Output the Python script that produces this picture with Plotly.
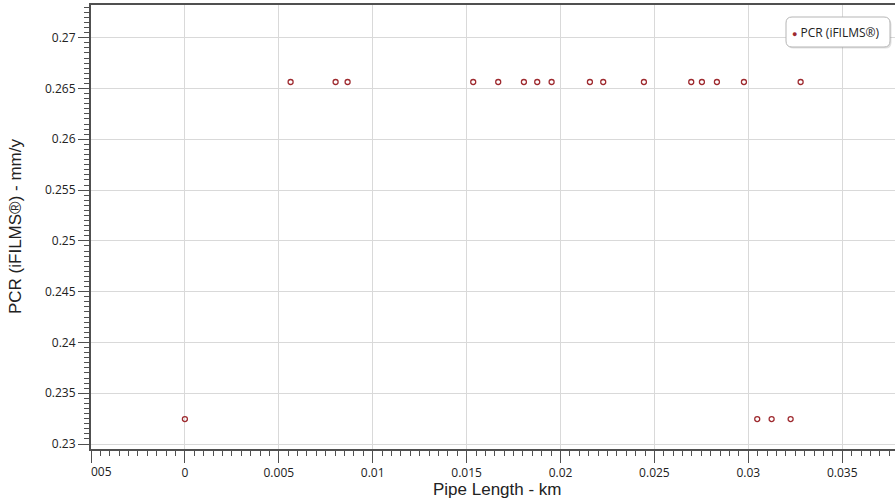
import plotly.graph_objects as go

# ---- data ----
pipe_length_km = [0.0, 0.005628, 0.008024, 0.008663, 0.015351, 0.016683, 0.018051,
                  0.018759, 0.019526, 0.021565, 0.022274, 0.024441, 0.026960,
                  0.027529, 0.028328, 0.029766, 0.030474, 0.031241, 0.032252,
                  0.032785]
pcr_mm_y = [0.23246, 0.26564, 0.26564, 0.26564, 0.26564, 0.26564, 0.26564,
            0.26564, 0.26564, 0.26564, 0.26564, 0.26564, 0.26564,
            0.26564, 0.26564, 0.26564, 0.23246, 0.23246, 0.23246,
            0.26564]

series_name = "PCR (iFILMS®)"
x_tick_vals = [-0.005, 0, 0.005, 0.01, 0.015, 0.02, 0.025, 0.03, 0.035]
x_tick_text = ["", "0", "0.005", "0.01", "0.015", "0.02", "0.025", "0.03", "0.035"]
y_tick_vals = [0.23, 0.235, 0.24, 0.245, 0.25, 0.255, 0.26, 0.265, 0.27]
y_tick_text = ["0.23", "0.235", "0.24", "0.245", "0.25", "0.255", "0.26", "0.265", "0.27"]
x_title = "Pipe Length - km"
y_title = "PCR (iFILMS®) - mm/y"

# ---- styling ----
W, H = 895, 498
ML, MR, MT, MB = 91, 0, 5, 49
marker_color = "#9e2a2f"
axis_color = "#505050"
grid_color = "#d9d9d9"
tick_font = dict(family="Open Sans", size=12, color="#222222")
title_font = dict(family="Liberation Sans, Arial", size=17, color="#222222")

fig = go.Figure()
fig.add_trace(go.Scatter(
    x=pipe_length_km, y=pcr_mm_y, mode="markers", name=series_name,
    marker=dict(symbol="circle-open", size=5, color=marker_color,
                line=dict(width=1.3, color=marker_color)),
    showlegend=False, cliponaxis=False,
))

pw = W - ML - MR
ph = H - MT - MB

def px_x(p):
    return (p - ML) / pw

def px_y(p):
    return (H - MB - p) / ph

# rounded legend box
bx0, bx1, by0, by1 = px_x(786), px_x(890), px_y(17), px_y(47)
rx, ry = 6 / pw, 6 / ph

def rounded(x0, x1, y0, y1):
    return (f"M {x0+rx} {y0} L {x1-rx} {y0} Q {x1} {y0} {x1} {y0-ry} "
            f"L {x1} {y1+ry} Q {x1} {y1} {x1-rx} {y1} L {x0+rx} {y1} "
            f"Q {x0} {y1} {x0} {y1+ry} L {x0} {y0-ry} Q {x0} {y0} {x0+rx} {y0} Z")

fig.add_shape(type="path", xref="paper", yref="paper",
              path=rounded(bx0 + 1.5 / pw, bx1 + 1.5 / pw, by0 - 1.5 / ph, by1 - 1.5 / ph),
              line=dict(color="rgba(0,0,0,0)", width=0), fillcolor="rgba(0,0,0,0.12)")
fig.add_shape(type="path", xref="paper", yref="paper",
              path=rounded(bx0, bx1, by0, by1),
              line=dict(color="#b5b5b5", width=1), fillcolor="white")

fig.add_annotation(
    xref="paper", yref="paper", x=px_x(790), y=px_y(32), xanchor="left", yanchor="middle",
    text=f"<span style='color:{marker_color};font-size:9px'>●</span> {series_name}",
    showarrow=False, font=dict(family="Open Sans", size=12, color="#222222"),
)

# clipped "-0.005" label at the left edge
fig.add_annotation(
    xref="x", yref="paper", x=x_tick_vals[0], y=0, xanchor="left", yanchor="middle",
    xshift=-2, yshift=-22, text="005", showarrow=False, font=tick_font,
)

# axis titles
fig.add_annotation(
    xref="paper", yref="paper", x=0.5, y=0, xanchor="center", yanchor="middle",
    xshift=4, yshift=-40.5, text=x_title, showarrow=False, font=title_font,
)
fig.add_annotation(
    xref="paper", yref="paper", x=0, y=0.5, xanchor="center", yanchor="middle",
    xshift=-(ML - 15), textangle=-90, text=y_title, showarrow=False, font=title_font,
)

fig.update_xaxes(
    range=[-0.005, 0.03781], tickmode="array", tickvals=x_tick_vals, ticktext=x_tick_text,
    ticks="outside", ticklen=12, tickwidth=1, tickcolor=axis_color, tickfont=tick_font,
    showline=True, linewidth=2, linecolor=axis_color, mirror=True,
    showgrid=True, gridcolor=grid_color, gridwidth=1, zeroline=False,
    minor=dict(tickmode="linear", tick0=0, dtick=0.0005, ticks="outside", ticklen=5,
               tickwidth=1, tickcolor=axis_color, showgrid=False),
)
fig.update_yaxes(
    range=[0.22951, 0.27322], tickmode="array", tickvals=y_tick_vals, ticktext=y_tick_text,
    ticks="outside", ticklen=11, tickwidth=1, tickcolor=axis_color, tickfont=tick_font,
    showline=True, linewidth=2, linecolor=axis_color, mirror=False,
    showgrid=True, gridcolor=grid_color, gridwidth=1, zeroline=False,
    minor=dict(tickmode="linear", tick0=0, dtick=0.0005, ticks="outside", ticklen=5,
               tickwidth=1, tickcolor=axis_color, showgrid=False),
)

fig.update_layout(
    width=W, height=H, margin=dict(l=ML, r=MR, t=MT, b=MB, autoexpand=False),
    paper_bgcolor="white", plot_bgcolor="white", showlegend=False,
)

fig.write_html("out.html", config={"displayModeBar": False},
               post_script="document.body.style.margin='0';document.body.style.overflow='hidden';")
